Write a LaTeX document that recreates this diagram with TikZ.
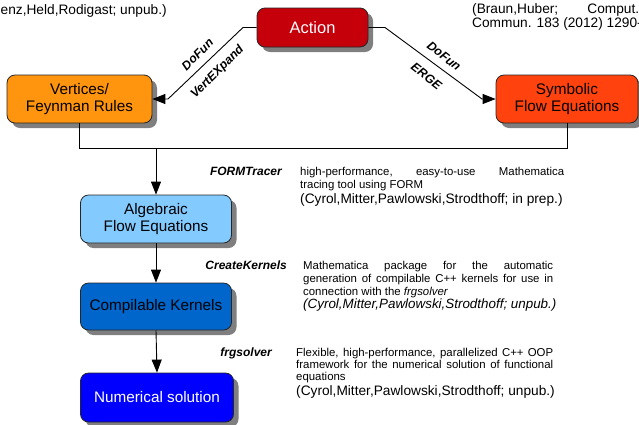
\documentclass[tikz,border=0pt]{standalone}
\usepackage{fontspec}
\setmainfont{Liberation Sans}
\usetikzlibrary{arrows.meta,shadows}
\definecolor{actred}{HTML}{C5000B}
\definecolor{vorange}{HTML}{FF950E}
\definecolor{sorange}{HTML}{FF420E}
\definecolor{lblue}{HTML}{83CAFF}
\definecolor{mblue}{HTML}{0066CC}
\definecolor{dblue}{HTML}{0000FF}
\definecolor{shadowgray}{HTML}{7F7F7F}
\newcommand\myjust[2]{\hbox to #1pt{#2}}
\tikzset{
 box/.style={draw=black!85, line width=0.8pt, rounded corners=8pt, align=center, inner sep=0pt,
   font=\fontsize{15.3}{17}\selectfont,
   drop shadow={shadow xshift=5pt, shadow yshift=-5pt, fill=shadowgray, opacity=1}},
 conn/.style={draw=black, line width=0.9pt},
 arr/.style={conn, -{Triangle[length=13pt,width=10pt]}},
 tool/.style={font=\fontsize{12}{14}\selectfont\bfseries\itshape, inner sep=0pt, anchor=base east},
 dlabel/.style={font=\fontsize{12.3}{14}\selectfont\bfseries\itshape, inner sep=0pt},
 dline/.style={font=\fontsize{11.4}{13}\selectfont, inner sep=0pt, anchor=base west},
 rline/.style={font=\fontsize{13.7}{15}\selectfont, inner sep=0pt, anchor=base west},
}
\begin{document}
\begin{tikzpicture}[x=1pt,y=-1pt]
\useasboundingbox (0,0) rectangle (639,424);
% top texts (cut off as in the original)
\node[rline] (tl) at (0.5,14) {enz,Held,Rodigast; unpub.)};
\node[rline] (tr1) at (472,13) {\myjust{167}{(Braun,Huber;\hfil Comput.}};
\node[rline] (tr2) at (472,27) {Commun. 183 (2012) 1290-1};
% boxes
\node[box, fill=actred, text=white, minimum width=111pt, minimum height=39pt, font=\fontsize{16.5}{19}\selectfont] (action) at (312.5,27.5) {Action};
\node[box, fill=vorange, minimum width=145pt, minimum height=48pt] (vert) at (79.5,99) {Vertices/\\Feynman Rules};
\node[box, fill=sorange, minimum width=142pt, minimum height=48pt] (symb) at (567,99) {Symbolic\\Flow Equations};
\node[box, fill=lblue, minimum width=151pt, minimum height=48pt] (alg) at (156,219) {Algebraic\\Flow Equations};
\node[box, fill=mblue, minimum width=151pt, minimum height=47pt] (comp) at (156,306.5) {Compilable Kernels};
\node[box, fill=dblue, text=white, minimum width=153pt, minimum height=49pt] (num) at (157,397.5) {Numerical solution};
% connectors
\coordinate (l1) at (243,27.5);
\coordinate (l2) at (168,99);
\coordinate (r1) at (385,27.5);
\coordinate (r2) at (482,99);
\coordinate (yb) at (0,148);
\draw[arr] (action.west) -- (l1) -- (l2) -- (vert.east);
\draw[arr] (action.east) -- (r1) -- (r2) -- (symb.west);
\draw[conn] (vert.south) -- (vert.south |- yb) -- (symb.south |- yb) -- (symb.south);
\draw[arr] (alg.north |- yb) -- (alg.north);
\draw[arr] (alg.south) -- (comp.north);
\draw[arr] (comp.south) -- (num.north);
% diagonal labels
\node[dlabel, rotate=45] (lab1) at (197.5,54.5) {DoFun};
\node[dlabel, rotate=45] (lab2) at (217.5,72) {VertEXpand};
\node[dlabel, rotate=-38] (lab3) at (444,56) {DoFun};
\node[dlabel, rotate=-38] (lab4) at (426.5,76) {ERGE};
% tools
\node[tool] (t1) at (282,175) {FORMTracer};
\node[tool] (t2) at (287,269) {CreateKernels};
\node[tool] (t3) at (272,356) {frgsolver};
% descriptions
\node[dline] (d1a) at (300,175) {\myjust{264}{high-performance,\hfil easy-to-use\hfil Mathematica}};
\node[dline] (d1b) at (300,188.5) {tracing tool using FORM};
\node[rline] (d1c) at (300,203) {(Cyrol,Mitter,Pawlowski,Strodthoff; in prep.)};
\node[dline] (d2a) at (303,269) {\myjust{250}{Mathematica\hfil package\hfil for\hfil the\hfil automatic}};
\node[dline] (d2b) at (303,282) {\myjust{250}{generation of compilable C++ kernels for use in}};
\node[dline] (d2c) at (303,295) {connection with the \textit{frgsolver}};
\node[rline, font=\fontsize{13.4}{15}\selectfont\itshape] (d2d) at (303,308) {(Cyrol,Mitter,Pawlowski,Strodthoff; unpub.)};
\node[dline] (d3a) at (296,356) {\myjust{257}{Flexible, high-performance, parallelized C++ OOP}};
\node[dline] (d3b) at (296,368) {\myjust{257}{framework for the numerical solution of functional}};
\node[dline] (d3c) at (296,380) {equations};
\node[rline] (d3d) at (296,395) {(Cyrol,Mitter,Pawlowski,Strodthoff; unpub.)};
\end{tikzpicture}
\end{document}
